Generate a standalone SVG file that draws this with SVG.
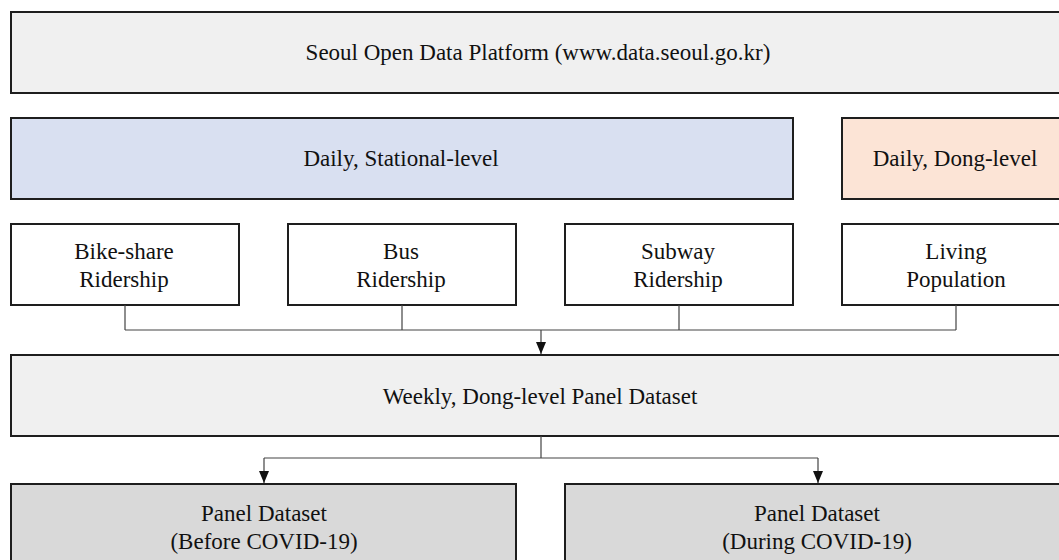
<svg xmlns="http://www.w3.org/2000/svg" width="1059" height="560" viewBox="0 0 1059 560">
  <style>
    .box { stroke: #1e1e1e; stroke-width: 2; }
    .light { fill: #f0f0f0; }
    .blue { fill: #d9e0f1; }
    .peach { fill: #fce4d6; }
    .white { fill: #ffffff; }
    .grey { fill: #d9d9d9; }
    .label { font-size: 23px; fill: #111; text-anchor: middle; }
    .wire { stroke: #444; stroke-width: 1.2; fill: none; }
  </style>
  <defs>
    <marker id="arrow" viewBox="0 0 12 10" refX="12" refY="5" markerWidth="12" markerHeight="10" markerUnits="userSpaceOnUse" orient="auto">
      <path d="M0,0 L12,5 L0,10 Z" fill="#111"/>
    </marker>
  </defs>

  <g font-family="'Liberation Serif', 'Times New Roman', 'DejaVu Serif', serif">
    <g id="source">
      <rect class="box light" x="11" y="12" width="1060" height="81"/>
      <text class="label" x="538" y="60">Seoul Open Data Platform (www.data.seoul.go.kr)</text>
    </g>

    <g id="stational">
      <rect class="box blue" x="11" y="118" width="782" height="81"/>
      <text class="label" x="401" y="166">Daily, Stational-level</text>
    </g>

    <g id="dong">
      <rect class="box peach" x="842" y="118" width="230" height="81"/>
      <text class="label" x="955" y="166">Daily, Dong-level</text>
    </g>

    <g id="bike">
      <rect class="box white" x="11" y="224" width="228" height="81"/>
      <text class="label" x="124" y="259">Bike-share</text>
      <text class="label" x="124" y="287">Ridership</text>
    </g>

    <g id="bus">
      <rect class="box white" x="288" y="224" width="228" height="81"/>
      <text class="label" x="401" y="259">Bus</text>
      <text class="label" x="401" y="287">Ridership</text>
    </g>

    <g id="subway">
      <rect class="box white" x="565" y="224" width="228" height="81"/>
      <text class="label" x="678" y="259">Subway</text>
      <text class="label" x="678" y="287">Ridership</text>
    </g>

    <g id="living">
      <rect class="box white" x="842" y="224" width="230" height="81"/>
      <text class="label" x="956" y="259">Living</text>
      <text class="label" x="956" y="287">Population</text>
    </g>

    <g id="weekly">
      <rect class="box light" x="11" y="355" width="1060" height="81"/>
      <text class="label" x="540" y="404">Weekly, Dong-level Panel Dataset</text>
    </g>

    <g id="before">
      <rect class="box grey" x="11" y="484" width="505" height="90"/>
      <text class="label" x="264" y="521">Panel Dataset</text>
      <text class="label" x="264" y="549">(Before COVID-19)</text>
    </g>

    <g id="during">
      <rect class="box grey" x="565" y="484" width="506" height="90"/>
      <text class="label" x="817" y="521">Panel Dataset</text>
      <text class="label" x="817" y="549">(During COVID-19)</text>
    </g>
  </g>

  <g id="connectors">
    <path class="wire" d="M125,305 V330 M402,305 V330 M679,305 V330 M956,305 V330 M125,330 H956"/>
    <path class="wire" d="M541,330 V354" marker-end="url(#arrow)"/>
    <path class="wire" d="M541,436 V458 M264,458 H818"/>
    <path class="wire" d="M264,458 V483" marker-end="url(#arrow)"/>
    <path class="wire" d="M818,458 V483" marker-end="url(#arrow)"/>
  </g>
</svg>
